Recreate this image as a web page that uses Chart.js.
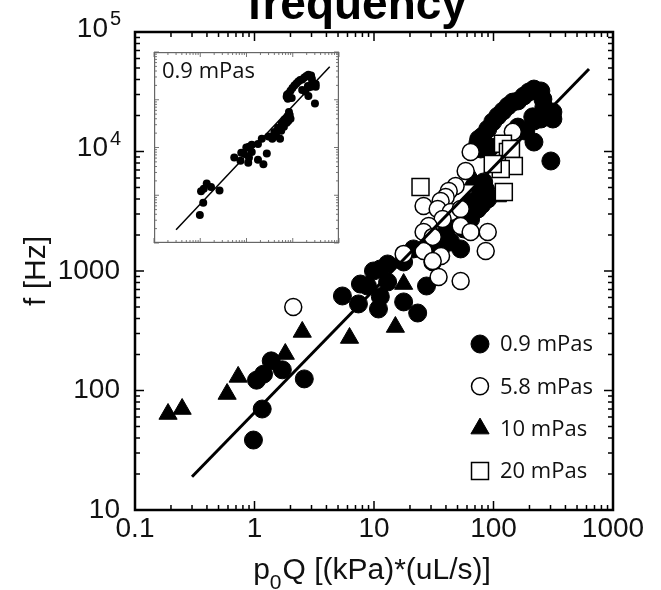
<!DOCTYPE html><html><head><title>frequency</title>
<style>html,body{margin:0;padding:0;background:#fff;overflow:hidden}#wrap{position:relative;width:661px;height:590px}#main{position:absolute;left:0;top:0}#inset{position:absolute;left:150px;top:48px}</style>
<script src="https://cdn.jsdelivr.net/npm/chart.js"></script>
</head><body><div id="wrap"><canvas id="main" width="661" height="590"></canvas><canvas id="inset" width="193" height="199"></canvas></div>
<script>
// [p0Q, f] pairs
const visc09 = [
  [0.98, 38.5], [1.16, 70], [1.04, 122], [1.19, 137], [1.38, 177], [1.71, 149], [2.61, 125],
  [5.44, 618], [7.41, 530], [7.7, 778], [9.9, 1000], [11.3, 610], [10.9, 481], [13, 1145], [17.7, 551], [23.2, 445], [27.5, 749],
  [11.3, 1040], [13.0, 809], [8.81, 749], [17.7, 1190], [21.4, 1530], [36.1, 1530], [43.8, 1750], [53.1, 1530], [56.3, 2250],
  [64.4, 2720], [73.8, 3300], [89.5, 4000], [78.2, 4580], [82.8, 5560], [86, 4800], [80, 3600], [30, 1700], [40, 2100],
  [48, 2600], [58, 3200], [66, 3800],
  [73.8, 11600], [81.3, 13500], [89.5, 15400], [98.6, 17700], [108.6, 19800], [120, 21800], [132, 24000], [145, 25900],
  [160, 26500], [179, 29100], [198, 31500], [218, 33300], [249, 32100], [259, 27400], [264, 23600], [314, 21400],
  [314, 18700], [249, 18700], [213, 19500], [218, 18000], [186, 14800], [160, 16000], [218, 12000], [302, 8330],
  [78.2, 10500], [75.2, 12700], [94.8, 10900]
];
const visc58 = [
  [2.11, 500], [26, 1470], [30.9, 1190], [34.7, 891], [36.4, 1335], [145, 14600], [64.4, 9900], [58.5, 6870],
  [48.2, 5140], [42.2, 4670], [39.8, 4160], [36.1, 3850], [26.0, 3500], [34.1, 3300], [43.8, 3120], [53.1, 3300],
  [37.5, 2720], [53.1, 2380], [64.4, 2120], [89.5, 2120], [86.1, 1470], [28.7, 2380], [26.0, 2120], [31.0, 1930],
  [17.7, 1390], [31.0, 1210], [53.1, 825]
];
const visc10 = [
  [0.189, 63.6], [0.248, 70], [0.59, 93.5], [0.73, 130], [1.81, 202], [2.51, 309], [6.24, 275], [15.1, 340],
  [17.7, 778], [68, 5800], [108, 4200]
];
const visc20 = [
  [24.5, 5050], [120, 11600], [132, 9900], [140, 10500], [148, 7560], [115, 7140], [98.6, 7860], [122, 4580]
];
const fitLine = [[0.3, 19], [630, 49000]];
const seriesLabels = ['0.9 mPas', '5.8 mPas', '10 mPas', '20 mPas'];
const xTicks = [0.1, 1, 10, 100, 1000];
const xTickLabels = ['0.1', '1', '10', '100', '1000'];
const yTicks = [10, 100, 1000, 1e4, 1e5];
const yTickLabels = ['10', '100', '1000', '10', '10'];
const yTickExps = ['', '', '', '4', '5'];
const xTitleParts = ['p', '0', 'Q [(kPa)*(uL/s)]'];
const yTitle = 'f [Hz]';
const chartTitle = 'frequency';

const sans = "'Liberation Sans', Arial, sans-serif";
const humanist = "'Open Sans', 'Noto Sans', sans-serif";
const pts = a => a.map(([x, y]) => ({x, y}));
const tickIndex = (v, ticks) => ticks.findIndex(t => Math.abs(Math.log10(v) - Math.log10(t)) < 1e-6);

const logSteps = (min, max) => {
  const out = [];
  for (let e = Math.round(Math.log10(min)); e < Math.round(Math.log10(max)); e++)
    for (let m = 1; m < 10; m++) out.push([m * Math.pow(10, e), m === 1]);
  out.push([max, true]);
  return out;
};
const drawTicks = (chart, major, minor, color, width) => {
  const {ctx, chartArea: a, scales: {x, y}} = chart;
  ctx.save(); ctx.strokeStyle = color; ctx.lineWidth = width; ctx.beginPath();
  for (const [v, big] of logSteps(x.min, x.max)) {
    const p = x.getPixelForValue(v), len = big ? major : minor;
    ctx.moveTo(p, a.bottom); ctx.lineTo(p, a.bottom - len);
    ctx.moveTo(p, a.top); ctx.lineTo(p, a.top + len);
  }
  for (const [v, big] of logSteps(y.min, y.max)) {
    const p = y.getPixelForValue(v), len = big ? major : minor;
    ctx.moveTo(a.left, p); ctx.lineTo(a.left + len, p);
    ctx.moveTo(a.right, p); ctx.lineTo(a.right - len, p);
  }
  ctx.stroke(); ctx.restore();
};

const styles = [
  {pointStyle: 'circle', pointRadius: 9, pointBackgroundColor: '#000', pointBorderColor: '#000', pointBorderWidth: 1},
  {pointStyle: 'circle', pointRadius: 8.5, pointBackgroundColor: '#fff', pointBorderColor: '#000', pointBorderWidth: 1.5},
  {pointStyle: 'triangle', pointRadius: 10.5, pointBackgroundColor: '#000', pointBorderColor: '#000', pointBorderWidth: 1},
  {pointStyle: 'rect', pointRadius: 12, pointBackgroundColor: '#fff', pointBorderColor: '#000', pointBorderWidth: 1.5}
];
const series = [visc09, visc58, visc10, visc20];
const drawOrder = [3, 1, 2, 0]; // first listed is drawn on top

const mainDecor = {
  id: 'mainDecor',
  afterDraw(chart) {
    const {ctx, chartArea: a, scales: {y}} = chart;
    drawTicks(chart, 9, 5, '#000', 1.5);
    ctx.save();
    ctx.strokeStyle = '#000'; ctx.lineWidth = 2.5;
    ctx.strokeRect(a.left, a.top, a.width, a.height);
    // power-of-ten labels with a raised exponent
    ctx.fillStyle = '#111';
    yTicks.forEach((v, i) => {
      if (!yTickExps[i]) return;
      const p = y.getPixelForValue(v);
      ctx.font = '28px ' + sans; ctx.textAlign = 'right'; ctx.textBaseline = 'middle';
      ctx.fillText(yTickLabels[i], 108, p - 3);
      ctx.font = '20px ' + sans; ctx.textAlign = 'left'; ctx.textBaseline = 'alphabetic';
      ctx.fillText(yTickExps[i], 110, p - 7);
    });
    // x axis title with subscript
    ctx.textAlign = 'left'; ctx.textBaseline = 'alphabetic';
    const f1 = '30px ' + sans, f2 = '21px ' + sans;
    ctx.font = f1; const w0 = ctx.measureText(xTitleParts[0]).width, w2 = ctx.measureText(xTitleParts[2]).width;
    ctx.font = f2; const w1 = ctx.measureText(xTitleParts[1]).width + 1;
    let xx = 372 - (w0 + w1 + w2) / 2;
    ctx.font = f1; ctx.fillText(xTitleParts[0], xx, 579); xx += w0;
    ctx.font = f2; ctx.fillText(xTitleParts[1], xx, 589); xx += w1;
    ctx.font = f1; ctx.fillText(xTitleParts[2], xx, 579);
    // legend
    ctx.font = '22px ' + humanist; ctx.textBaseline = 'middle';
    seriesLabels.forEach((lab, i) => {
      const s = styles[i], yy = 344 + i * 42.3;
      ctx.fillStyle = s.pointBackgroundColor; ctx.strokeStyle = s.pointBorderColor; ctx.lineWidth = s.pointBorderWidth;
      Chart.helpers.drawPoint(ctx, {pointStyle: s.pointStyle, radius: s.pointRadius, rotation: 0, borderWidth: s.pointBorderWidth}, 480, yy);
      ctx.fillStyle = '#111';
      ctx.fillText(lab, 500, yy + 1);
    });
    // title, cut at the top edge as in the original
    ctx.font = 'bold 46px ' + sans; ctx.textAlign = 'center'; ctx.textBaseline = 'alphabetic'; ctx.fillStyle = '#000';
    ctx.fillText(chartTitle, 357, 19);
    ctx.restore();
  }
};

const logAxis = (min, max, ticks, labels, exps) => ({
  type: 'logarithmic', min, max,
  grid: {display: false, drawTicks: false}, border: {display: false},
  ticks: {autoSkip: false, maxRotation: 0, color: '#111', font: {family: sans, size: 28},
    callback: v => { const i = tickIndex(v, ticks); return i < 0 || (exps && exps[i]) ? '' : labels[i]; }}
});
const xAxis = logAxis(0.1, 1000, xTicks, xTickLabels);
xAxis.ticks.padding = 2;
xAxis.afterFit = s => { s.height = 80; };
const yAxis = logAxis(10, 1e5, yTicks, yTickLabels, yTickExps);
yAxis.ticks.padding = 15;
yAxis.afterFit = s => { s.width = 135; };
yAxis.title = {display: true, text: yTitle, color: '#111', font: {family: sans, size: 30}, padding: {top: 19, bottom: 0}};

const lineSet = w => ({data: pts(fitLine), showLine: true, borderColor: '#000', borderWidth: w, pointRadius: 0, fill: false});

new Chart(document.getElementById('main'), {
  type: 'scatter',
  data: {datasets: [lineSet(3)].concat(drawOrder.map(i => Object.assign({label: seriesLabels[i], data: pts(series[i])}, styles[i])))},
  options: {
    responsive: false, animation: false, devicePixelRatio: 1,
    layout: {padding: {top: 32, right: 48, left: 0, bottom: 0}},
    plugins: {legend: {display: false}, tooltip: {enabled: false}},
    scales: {x: xAxis, y: yAxis}
  },
  plugins: [mainDecor]
});

const insetDecor = {
  id: 'insetDecor',
  beforeDraw(chart) { const {ctx, width, height} = chart; ctx.save(); ctx.fillStyle = '#fff'; ctx.fillRect(0, 0, width, height); ctx.restore(); },
  afterDraw(chart) {
    const {ctx, chartArea: a} = chart;
    drawTicks(chart, 5, 3, '#777', 1);
    ctx.save();
    ctx.strokeStyle = '#666'; ctx.lineWidth = 1.2;
    ctx.strokeRect(a.left + 0.6, a.top + 0.6, a.width - 1.2, a.height - 1.2);
    ctx.font = '22px ' + humanist; ctx.fillStyle = '#111'; ctx.textBaseline = 'alphabetic';
    ctx.fillText(seriesLabels[0], 12, 30);
    ctx.restore();
  }
};
new Chart(document.getElementById('inset'), {
  type: 'scatter',
  data: {datasets: [lineSet(1.5), {data: pts(visc09), pointStyle: 'circle', pointRadius: 4, pointBackgroundColor: '#000', pointBorderColor: '#000', pointBorderWidth: 0}]},
  options: {
    responsive: false, animation: false, devicePixelRatio: 1,
    layout: {padding: 0},
    plugins: {legend: {display: false}, tooltip: {enabled: false}},
    scales: {
      x: {type: 'logarithmic', min: 0.1, max: 1000, display: false},
      y: {type: 'logarithmic', min: 10, max: 1e5, display: false}
    }
  },
  plugins: [insetDecor]
});
</script>
</body>
</html>
